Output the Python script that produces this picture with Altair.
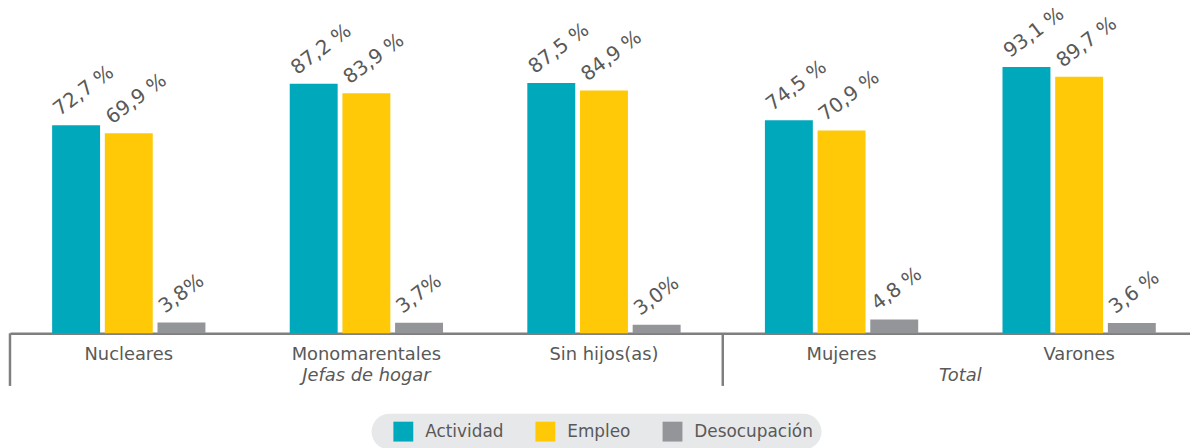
import altair as alt
import pandas as pd

categories = ["Nucleares", "Monomarentales", "Sin hijos(as)", "Mujeres", "Varones"]
series = ["Actividad", "Empleo", "Desocupación"]
actividad = [72.7, 87.2, 87.5, 74.5, 93.1]
empleo = [69.9, 83.9, 84.9, 70.9, 89.7]
desocupacion = [3.8, 3.7, 3.0, 4.8, 3.6]
lab_actividad = ["72,7 %", "87,2 %", "87,5 %", "74,5 %", "93,1 %"]
lab_empleo = ["69,9 %", "83,9 %", "84,9 %", "70,9 %", "89,7 %"]
lab_desocupacion = ["3,8%", "3,7%", "3,0%", "4,8 %", "3,6 %"]
colors = ["#00A8BC", "#FFC907", "#939598"]

groups = [("Jefas de hogar", "Monomarentales", 0.5), ("Total", "Varones", 0.0)]
separators = ["Nucleares", "Mujeres"]

rows = []
for s, vals, labs in zip(series, [actividad, empleo, desocupacion],
                         [lab_actividad, lab_empleo, lab_desocupacion]):
    for c, v, l in zip(categories, vals, labs):
        rows.append({"cat": c, "serie": s, "value": v, "label": l})
df = pd.DataFrame(rows)

FONT = "DejaVu Sans"
TXT = "#595959"
H = 288

xscale = alt.Scale(domain=categories, paddingInner=0, paddingOuter=0, range=[-2, 1194])
xoff_scale = alt.Scale(domain=series, paddingInner=0.09, paddingOuter=0.80)
yscale = alt.Scale(domain=[0, 100])

x_enc = alt.X("cat:N", scale=xscale, sort=categories,
              axis=alt.Axis(title=None, labelAngle=0, ticks=False, labelPadding=12,
                            labelFontSize=18, labelColor=TXT, labelFont=FONT,
                            domainColor="#7F7F7F", domainWidth=2.5))

bars = alt.Chart(df).mark_bar().encode(
    x=x_enc,
    xOffset=alt.XOffset("serie:N", scale=xoff_scale, sort=series),
    y=alt.Y("value:Q", scale=yscale, axis=None),
    color=alt.Color("serie:N", sort=series,
                    scale=alt.Scale(domain=series, range=colors),
                    legend=alt.Legend(title=None, orient="none", direction="horizontal",
                                      legendX=362, legendY=369, columns=3,
                                      symbolType="square", symbolSize=400,
                                      symbolStrokeWidth=0, symbolOpacity=1,
                                      labelFontSize=17, labelFont=FONT, labelColor=TXT,
                                      labelOffset=12, columnPadding=18,
                                      fillColor="#E7E8E9", cornerRadius=18,
                                      padding=8, symbolOffset=14)),
)

texts = alt.Chart(df).mark_text(
    angle=323, align="left", baseline="alphabetic", dx=-8, dy=-17,
    fontSize=20, font=FONT, color=TXT,
).encode(
    x=alt.X("cat:N", scale=xscale, sort=categories),
    xOffset=alt.XOffset("serie:N", scale=xoff_scale, sort=series),
    y=alt.Y("value:Q", scale=yscale),
    text="label:N",
)

sep_df = pd.DataFrame({"cat": separators})
seps = alt.Chart(sep_df).mark_rule(color="#7F7F7F", strokeWidth=2.5).encode(
    x=alt.X("cat:N", scale=xscale, sort=categories, bandPosition=0),
    y=alt.value(H),
    y2=alt.value(H + 53),
)

grp_rows = [{"cat": c, "name": n, "bp": b} for n, c, b in groups]
grp_layers = []
for g in grp_rows:
    gdf = pd.DataFrame([g])
    grp_layers.append(
        alt.Chart(gdf).mark_text(fontSize=18, font=FONT, fontStyle="italic", color=TXT,
                                 baseline="middle", align="center").encode(
            x=alt.X("cat:N", scale=xscale, sort=categories, bandPosition=g["bp"]),
            y=alt.value(H + 43),
            text="name:N",
        )
    )

chart = alt.layer(bars, texts, seps, *grp_layers).properties(
    width=1186, height=H,
    padding={"left": 4, "top": 38, "right": 0, "bottom": 114},
    autosize=alt.AutoSizeParams(type="none"),
).configure_view(stroke=None)

chart.save("out.html", embed_options={"renderer": "svg", "actions": False})
